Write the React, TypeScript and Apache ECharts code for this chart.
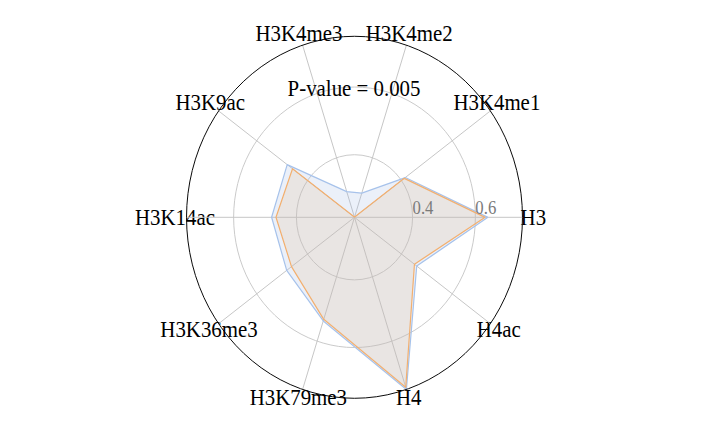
import React, { useEffect, useRef } from 'react';
import * as echarts from 'echarts';

// ---- data ----
const categories = ['H3', 'H3K4me1', 'H3K4me2', 'H3K4me3', 'H3K9ac', 'H3K14ac', 'H3K36me3', 'H3K79me3', 'H4', 'H4ac'];
const blueValues = [0.64, 0.415, 0.29, 0.295, 0.48, 0.479, 0.482, 0.537, 0.75, 0.46];
const orangeValues = [0.631, 0.411, 0.216, 0.216, 0.459, 0.465, 0.463, 0.532, 0.743, 0.451];
const radiusMin = 0.215;
const radiusMax = 0.75;
const radiusTicksShown = ['0.4', '0.6'];
const titleText = 'P-value = 0.005';

// ---- styles ----
const FONT = 'Liberation Serif';
const SCALE_X = 0.928;
const OUT_W = 708;
const OUT_H = 436;
const IN_W = Math.round(OUT_W / SCALE_X);
const CENTER = [382, 217.3];
const RADIUS = 181;
const labelPaddings: number[][] = [
  [0, 0, 0, 4],
  [0, 0, 0, -35],
  [0, 0, 5.6, 9.7],
  [0, 0, 5.6, -11.6],
  [0, -23.6, 0, 0],
  [0, -24.7, 0, 0],
  [-2.4, -37.3, 0, 0],
  [2.4, 0, 0, -12.8],
  [2.4, 0, 0, 8.6],
  [-2.4, 0, 0, -9.8],
];

export default function App() {
  const ref = useRef<HTMLDivElement>(null);
  useEffect(() => {
    if (!ref.current) return;
    const chart = echarts.init(ref.current, undefined, { renderer: 'svg' });
    chart.setOption({
      animation: false,
      backgroundColor: '#fff',
      title: {
        text: titleText,
        left: 'center',
        top: 72,
        textStyle: { fontFamily: FONT, fontSize: 22.5, fontWeight: 'normal', color: '#000' },
      },
      polar: [
        { center: CENTER, radius: RADIUS },
        { center: CENTER, radius: RADIUS },
      ],
      angleAxis: [
        {
          polarIndex: 0,
          type: 'category',
          data: categories.map((c, i) => ({ value: c, textStyle: { padding: labelPaddings[i] } })),
          boundaryGap: false,
          startAngle: 0,
          clockwise: false,
          axisLine: { show: false },
          axisTick: { show: false },
          axisLabel: { interval: 0, margin: -6, color: '#000', fontFamily: FONT, fontSize: 22.5 },
          splitLine: { show: true, interval: 0, lineStyle: { color: '#c4c4c4', width: 1 } },
        },
        {
          polarIndex: 1,
          type: 'value',
          min: 0,
          max: 360,
          startAngle: 0,
          clockwise: false,
          z: 3,
          axisLine: { show: true, lineStyle: { color: '#000', width: 1 } },
          axisTick: { show: false },
          axisLabel: { show: false },
          splitLine: { show: false },
        },
      ],
      radiusAxis: [
        {
          polarIndex: 0,
          type: 'value',
          min: radiusMin,
          max: radiusMax,
          splitNumber: 3,
          z: 4,
          axisLine: { show: false },
          axisTick: { show: false },
          axisLabel: {
            show: true,
            showMinLabel: false,
            showMaxLabel: false,
            align: 'left',
            verticalAlign: 'bottom',
            margin: 0,
            color: '#7a7a7a',
            fontFamily: FONT,
            fontSize: 18,
            formatter: (v: number) => {
              const s = v.toFixed(1);
              return radiusTicksShown.includes(s) ? s : '';
            },
          },
          splitLine: { show: false },
        },
        {
          polarIndex: 1,
          type: 'value',
          min: radiusMin,
          max: radiusMax,
          splitNumber: 3,
          axisLine: { show: false },
          axisTick: { show: false },
          axisLabel: { show: false },
          splitLine: { show: true, lineStyle: { color: ['#c8c8c8', '#c8c8c8', '#c8c8c8', 'rgba(0,0,0,0)'], width: 1 } },
        },
      ],
      radar: {
        center: CENTER,
        radius: RADIUS,
        startAngle: 0,
        shape: 'circle',
        indicator: categories.map((c) => ({ name: c, min: radiusMin, max: radiusMax })),
        axisName: { show: false },
        axisLine: { show: false },
        splitLine: { show: false },
        splitArea: { show: false },
        axisTick: { show: false },
        axisLabel: { show: false },
      },
      series: [
        {
          type: 'radar',
          z: 2,
          symbol: 'none',
          data: [
            {
              value: blueValues,
              lineStyle: { color: '#a8c4ec', width: 1.3 },
              areaStyle: { color: 'rgba(162,185,225,0.3)' },
            },
            {
              value: orangeValues,
              lineStyle: { color: '#f5ae6b', width: 1.3 },
              areaStyle: { color: 'rgba(227,187,146,0.3)' },
            },
          ],
        },
      ],
    });
    return () => chart.dispose();
  }, []);
  return (
    <div style={{ position: 'absolute', left: 0, top: 0, width: OUT_W, height: OUT_H, overflow: 'hidden', background: '#fff' }}>
      <div
        ref={ref}
        style={{ width: IN_W, height: OUT_H, transform: `scaleX(${SCALE_X})`, transformOrigin: '0 0' }}
      />
    </div>
  );
}
